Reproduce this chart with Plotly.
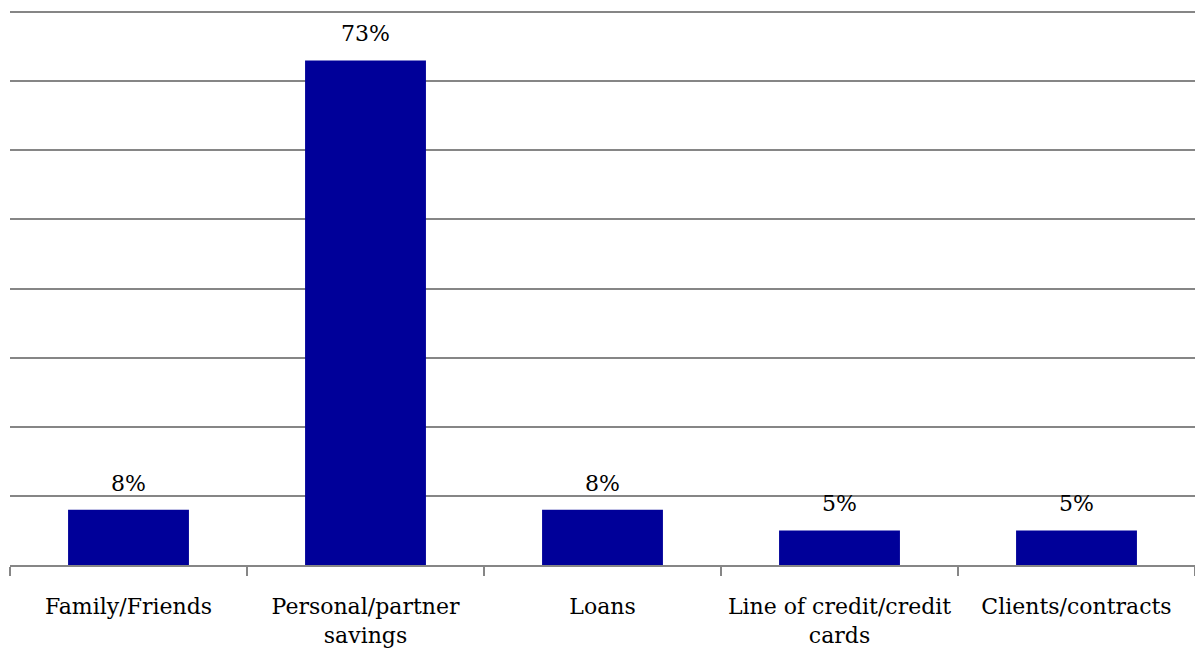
import plotly.graph_objects as go

categories = ["Family/Friends", "Personal/partner<br>savings", "Loans",
              "Line of credit/credit<br>cards", "Clients/contracts"]
values = [8, 73, 8, 5, 5]
labels = ["8%", "73%", "8%", "5%", "5%"]

FONT = "DejaVu Serif, serif"
FS = 22
GRID = "#868686"

fig = go.Figure()
fig.add_trace(go.Bar(x=categories, y=values, marker=dict(color="#000099", line=dict(width=0)),
                     hoverinfo="skip"))
for c, v, t in zip(categories, values, labels):
    fig.add_annotation(x=c, y=v, text=t, showarrow=False, yanchor="bottom", yshift=12,
                       font=dict(family=FONT, size=FS, color="black"))

fig.update_layout(
    width=1195, height=654,
    margin=dict(l=10, r=0, t=11, b=89, autoexpand=False),
    paper_bgcolor="white", plot_bgcolor="white",
    bargap=0.49, showlegend=False,
    font=dict(family=FONT, size=FS, color="black"),
)
fig.update_xaxes(showline=True, linecolor=GRID, linewidth=1.5, ticks="outside",
                 tickson="boundaries", ticklen=9, tickcolor=GRID, tickwidth=1.5,
                 ticklabelstandoff=21, automargin=False,
                 showgrid=False, tickfont=dict(family=FONT, size=FS, color="black"))
fig.update_yaxes(range=[0, 80.15], tickvals=[10, 20, 30, 40, 50, 60, 70, 80],
                 showticklabels=False, showgrid=True,
                 gridcolor=GRID, gridwidth=1.5, zeroline=False)

fig.write_html("out.html", config={"displayModeBar": False},
               post_script="document.body.style.margin='0';")
